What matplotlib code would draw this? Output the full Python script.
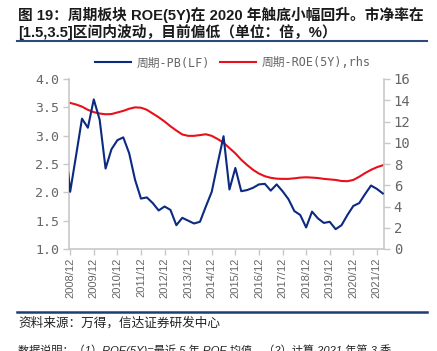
import matplotlib
matplotlib.use("Agg")
import matplotlib.pyplot as plt
from matplotlib.lines import Line2D

# ---- data (quarterly, 2008/12 .. 2022/03, plus a leading point) ----
quarters = ["2008/11", "2008/12", "2009/03", "2009/06", "2009/09", "2009/12", "2010/03", "2010/06", "2010/09",
            "2010/12", "2011/03", "2011/06", "2011/09", "2011/12", "2012/03", "2012/06", "2012/09",
            "2012/12", "2013/03", "2013/06", "2013/09", "2013/12", "2014/03", "2014/06", "2014/09",
            "2014/12", "2015/03", "2015/06", "2015/09", "2015/12", "2016/03", "2016/06", "2016/09",
            "2016/12", "2017/03", "2017/06", "2017/09", "2017/12", "2018/03", "2018/06", "2018/09",
            "2018/12", "2019/03", "2019/06", "2019/09", "2019/12", "2020/03", "2020/06", "2020/09",
            "2020/12", "2021/03", "2021/06", "2021/09", "2021/12", "2022/03"]
pb = [2.35, 2.01, 2.65, 3.30, 3.14, 3.64, 3.28, 2.42, 2.76,
      2.92, 2.97, 2.69, 2.22, 1.89, 1.91, 1.81, 1.68,
      1.75, 1.69, 1.42, 1.55, 1.50, 1.45, 1.48, 1.75,
      2.01, 2.51, 2.99, 2.05, 2.43, 2.02, 2.04, 2.08,
      2.14, 2.15, 2.03, 2.14, 2.02, 1.88, 1.67, 1.60,
      1.38, 1.66, 1.54, 1.46, 1.48, 1.35, 1.42, 1.60,
      1.76, 1.81, 1.97, 2.12, 2.06, 1.98]
roe = [13.8, 13.75, 13.6, 13.4, 13.1, 12.88, 12.75, 12.68, 12.7,
       12.85, 13.0, 13.2, 13.33, 13.3, 13.1, 12.75, 12.4,
       12.0, 11.55, 11.15, 10.78, 10.65, 10.65, 10.72, 10.8,
       10.65, 10.35, 10.0, 9.5, 9.0, 8.4, 7.9, 7.45,
       7.1, 6.85, 6.7, 6.62, 6.6, 6.6, 6.65, 6.72,
       6.75, 6.72, 6.68, 6.6, 6.55, 6.5, 6.4, 6.38,
       6.5, 6.8, 7.15, 7.45, 7.7, 7.88]
tick_labels = ["2008/12", "2009/12", "2010/12", "2011/12", "2012/12", "2013/12", "2014/12",
               "2015/12", "2016/12", "2017/12", "2018/12", "2019/12", "2020/12", "2021/12"]
left_ticks = [1.0, 1.5, 2.0, 2.5, 3.0, 3.5, 4.0]
right_ticks = [0, 2, 4, 6, 8, 10, 12, 14, 16]

title1 = "图 19：周期板块 ROE(5Y)在 2020 年触底小幅回升。市净率在"
title2 = "[1.5,3.5]区间内波动，目前偏低（单位：倍，%）"
source = "资料来源：万得，信达证券研发中心"
note = "数据说明：（1）ROE(5Y)=最近 5 年 ROE 均值，（2）计算 2021 年第 3 季"

# x positions: quarter index, first leading point slightly before 2008/12
def qpos(s):
    y, m = s.split("/")
    return (int(y) - 2008) * 4 + (int(m) - 12) / 3.0

xs = [qpos(q) for q in quarters]
tick_pos = [qpos(t) for t in tick_labels]

mono = ['DejaVu Sans Mono', 'Noto Sans CJK SC']
plt.rcParams['font.family'] = mono
W, H = 437, 351
fig = plt.figure(figsize=(W / 100, H / 100), dpi=100)

ax = fig.add_axes([69 / W, 1 - 249 / H, (384 - 69) / W, (249 - 79) / H])
ax2 = ax.twinx()

blue = "#0B2A80"
red = "#E8101A"
gray = "#C8C8C8"
tcol = "#666666"

ax.plot(xs, pb, color=blue, lw=1.5, zorder=3)
ax2.plot(xs, roe, color=red, lw=1.5, zorder=2)
ax.set_zorder(ax2.get_zorder() + 1)
ax.patch.set_visible(False)

ax.set_xlim(-0.2, 53.2)
ax.set_ylim(1.0, 4.0)
ax2.set_ylim(0, 16)
ax.set_yticks(left_ticks)
ax.set_yticklabels([f"{v:.1f}" for v in left_ticks])
ax2.set_yticks(right_ticks)
ax.set_xticks(tick_pos)
ax.set_xticklabels(tick_labels, rotation=90, family=['Liberation Sans', 'DejaVu Sans'])

for a in (ax, ax2):
    for s in a.spines.values():
        s.set_visible(False)
ax.spines['left'].set_visible(True)
ax.spines['bottom'].set_visible(True)
ax2.spines['right'].set_visible(True)
for s in (ax.spines['left'], ax.spines['bottom'], ax2.spines['right']):
    s.set_color(gray)
    s.set_linewidth(1.2)

ax.tick_params(axis='y', colors=gray, labelcolor=tcol, labelsize=9.5, length=4, width=1, pad=3)
ax.tick_params(axis='x', colors=gray, labelcolor=tcol, labelsize=8, length=4, width=1, pad=2)
ax2.tick_params(axis='y', colors=gray, labelcolor=tcol, labelsize=10, length=4, width=1, pad=3)

# legend
handles = [Line2D([], [], color=blue, lw=1.5), Line2D([], [], color=red, lw=1.5)]
leg = fig.legend(handles, ["周期-PB(LF)", "周期-ROE(5Y),rhs"], loc="center",
                 bbox_to_anchor=(233 / W, 1 - 63 / H), ncol=2, frameon=False,
                 prop={'family': mono, 'size': 8.5},
                 handlelength=3.0, columnspacing=0.9, handletextpad=0.5)
for t in leg.get_texts():
    t.set_color(tcol)

# title
tfam = ['Liberation Sans', 'Noto Sans CJK SC']
fig.text(18 / W, 1 - 15 / H, title1, fontsize=10.6, fontweight='bold', family=tfam,
         color="#1a1a1a", va='center', ha='left')
fig.text(18 / W, 1 - 32 / H, title2, fontsize=10.6, fontweight='bold', family=tfam,
         color="#1a1a1a", va='center', ha='left')
fig.add_artist(Line2D([17 / W, 427 / W], [1 - 41 / H, 1 - 41 / H], color="#2E4A7A", lw=1.5))

# bottom
fig.add_artist(Line2D([17 / W, 427 / W], [1 - 312 / H, 1 - 312 / H], color="#1F3C73", lw=1.8))
fig.text(18 / W, 1 - 323 / H, source, fontsize=9.1, family=tfam, color="#222222",
         va='center', ha='left', style='italic')
fig.text(18 / W, 1 - 350 / H, note, fontsize=8, family=tfam, color="#222222",
         va='center', ha='left', style='italic')

fig.savefig("out.png", dpi=100)
